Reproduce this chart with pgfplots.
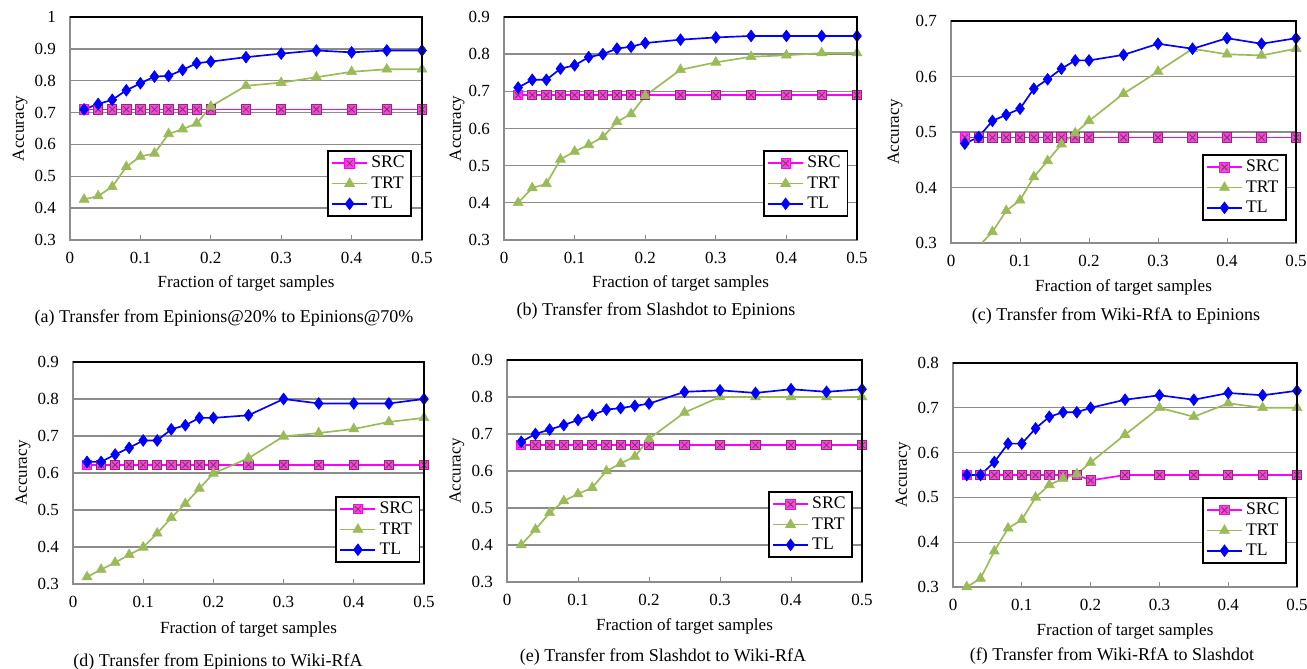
\documentclass[border=0pt]{standalone}
\usepackage{fontspec}
\setmainfont{Liberation Serif}
\usepackage{pgfplots}
\usepackage{pgfplotstable}
\pgfplotsset{compat=1.18}

\definecolor{srcline}{HTML}{FF00FF}
\definecolor{srcfill}{HTML}{E64FD0}
\definecolor{srccross}{HTML}{A0207F}
\definecolor{trtcol}{HTML}{9BBB59}
\definecolor{tlcol}{HTML}{0000FF}
\definecolor{gridgray}{HTML}{8C8C8C}

% square with a cross, like the SRC marker
\pgfdeclareplotmark{sqx}{%
  \pgfpathrectangle{\pgfqpoint{-\pgfplotmarksize}{-\pgfplotmarksize}}{\pgfqpoint{2\pgfplotmarksize}{2\pgfplotmarksize}}%
  \pgfusepathqfillstroke
  \pgfsetstrokecolor{srccross}%
  \pgfpathmoveto{\pgfqpoint{-0.65\pgfplotmarksize}{-0.65\pgfplotmarksize}}%
  \pgfpathlineto{\pgfqpoint{0.65\pgfplotmarksize}{0.65\pgfplotmarksize}}%
  \pgfpathmoveto{\pgfqpoint{-0.65\pgfplotmarksize}{0.65\pgfplotmarksize}}%
  \pgfpathlineto{\pgfqpoint{0.65\pgfplotmarksize}{-0.65\pgfplotmarksize}}%
  \pgfusepathqstroke
}

% (a) Epinions@20% -> Epinions@70%
\pgfplotstableread{
x    src   trt   tl
0.02 0.710 0.427 0.710
0.04 0.710 0.438 0.727
0.06 0.710 0.467 0.740
0.08 0.710 0.530 0.770
0.10 0.710 0.562 0.792
0.12 0.710 0.572 0.813
0.14 0.710 0.633 0.815
0.16 0.710 0.648 0.834
0.18 0.710 0.666 0.855
0.20 0.710 0.719 0.860
0.25 0.710 0.784 0.874
0.30 0.710 0.794 0.885
0.35 0.710 0.811 0.895
0.40 0.710 0.828 0.889
0.45 0.710 0.836 0.895
0.50 0.710 0.836 0.895
}\dataA

% (b) Slashdot -> Epinions
\pgfplotstableread{
x    src   trt   tl
0.02 0.690 0.400 0.710
0.04 0.690 0.440 0.731
0.06 0.690 0.451 0.731
0.08 0.690 0.517 0.761
0.10 0.690 0.538 0.770
0.12 0.690 0.556 0.792
0.14 0.690 0.577 0.800
0.16 0.690 0.618 0.815
0.18 0.690 0.639 0.820
0.20 0.690 0.688 0.830
0.25 0.690 0.758 0.839
0.30 0.690 0.778 0.845
0.35 0.690 0.793 0.849
0.40 0.690 0.797 0.849
0.45 0.690 0.803 0.849
0.50 0.690 0.803 0.849
}\dataB

% (c) Wiki-RfA -> Epinions
\pgfplotstableread{
x    src   trt   tl
0.02 0.490 0.270 0.479
0.04 0.490 0.294 0.491
0.06 0.490 0.320 0.520
0.08 0.490 0.358 0.531
0.10 0.490 0.377 0.542
0.12 0.490 0.419 0.578
0.14 0.490 0.448 0.595
0.16 0.490 0.478 0.614
0.18 0.490 0.498 0.629
0.20 0.490 0.520 0.629
0.25 0.490 0.569 0.639
0.30 0.490 0.609 0.659
0.35 0.490 0.650 0.650
0.40 0.490 0.640 0.669
0.45 0.490 0.638 0.659
0.50 0.490 0.650 0.669
}\dataC

% (d) Epinions -> Wiki-RfA
\pgfplotstableread{
x    src   trt   tl
0.02 0.622 0.319 0.630
0.04 0.622 0.339 0.630
0.06 0.622 0.358 0.650
0.08 0.622 0.379 0.668
0.10 0.622 0.399 0.688
0.12 0.622 0.437 0.688
0.14 0.622 0.479 0.718
0.16 0.622 0.517 0.729
0.18 0.622 0.558 0.749
0.20 0.622 0.599 0.749
0.25 0.622 0.640 0.756
0.30 0.622 0.699 0.800
0.35 0.622 0.708 0.788
0.40 0.622 0.719 0.788
0.45 0.622 0.738 0.788
0.50 0.622 0.749 0.800
}\dataD

% (e) Slashdot -> Wiki-RfA
\pgfplotstableread{
x    src   trt   tl
0.02 0.670 0.400 0.679
0.04 0.670 0.442 0.700
0.06 0.670 0.487 0.712
0.08 0.670 0.519 0.724
0.10 0.670 0.538 0.738
0.12 0.670 0.555 0.751
0.14 0.670 0.600 0.766
0.16 0.670 0.620 0.770
0.18 0.670 0.639 0.776
0.20 0.670 0.687 0.782
0.25 0.670 0.758 0.814
0.30 0.670 0.800 0.818
0.35 0.670 0.800 0.811
0.40 0.670 0.800 0.821
0.45 0.670 0.800 0.814
0.50 0.670 0.800 0.821
}\dataE

% (f) Wiki-RfA -> Slashdot
\pgfplotstableread{
x    src   trt   tl
0.02 0.550 0.300 0.550
0.04 0.550 0.319 0.550
0.06 0.550 0.380 0.579
0.08 0.550 0.431 0.620
0.10 0.550 0.450 0.620
0.12 0.550 0.500 0.654
0.14 0.550 0.528 0.680
0.16 0.550 0.542 0.690
0.18 0.550 0.552 0.690
0.20 0.538 0.578 0.700
0.25 0.550 0.640 0.718
0.30 0.550 0.700 0.728
0.35 0.550 0.680 0.718
0.40 0.550 0.710 0.733
0.45 0.550 0.700 0.728
0.50 0.550 0.700 0.738
}\dataF

\pgfplotsset{
  srcstyle/.style={color=srcline, line width=1pt, mark=sqx, mark size=2.8pt,
    mark options={fill=srcfill, draw=srcline, line width=0.5pt}},
  trtstyle/.style={color=trtcol, line width=1pt, mark=triangle*, mark size=3.4pt,
    mark options={fill=trtcol, draw=trtcol, line width=0.4pt}},
  tlstyle/.style={color=tlcol, line width=1pt, mark=diamond*, mark size=3.5pt,
    mark options={fill=tlcol, draw=tlcol, line width=0.4pt}},
  panel/.style n args={4}{
    scale only axis, anchor=south west,
    xmin=0, xmax=0.5, ymin=#1, ymax=#2,
    xtick={0,0.1,0.2,0.3,0.4,0.5},
    ytick distance=0.1,
    /pgf/number format/.cd, fixed, precision=1, assume math mode=true, /pgfplots/.cd,
    ymajorgrids,
    major grid style={gridgray, line width=0.8pt},
    axis line style={gridgray, line width=0.8pt},
    tick pos=left, xtick align=inside, major tick length=3pt,
    xtick style={gridgray, line width=0.6pt}, ytick style={draw=none},
    ticklabel style={font=\fontsize{10.2}{12}\selectfont},
    xticklabel style={yshift=-4pt},
    yticklabel style={xshift=-5pt},
    xlabel={Fraction of target samples}, ylabel={Accuracy},
    label style={font=\fontsize{10.2}{12}\selectfont},
    legend cell align=left,
    legend style={at={(#3,#4)}, anchor=south east, draw=black, line width=1pt,
      font=\fontsize{10.6}{12}\selectfont, inner xsep=2pt, inner ysep=1.2pt,
      row sep=-0.3pt},
    legend image code/.code={%
      \draw[##1, mark=none] (0pt,0pt) -- (21pt,0pt);
      \draw[##1] plot coordinates {(10.5pt,0pt)};},
  },
  xlab/.style={xlabel style={at={(axis description cs:0.5,-#1)}, anchor=center}},
  ylab/.style={ylabel style={at={(axis description cs:-#1,0.5)}, anchor=center}},
}

\newcommand{\threeplots}[1]{%
  \addplot[srcstyle] table[x=x, y=src] {#1};
  \addplot[trtstyle] table[x=x, y=trt] {#1};
  \addplot[tlstyle] table[x=x, y=tl] {#1};
  \legend{SRC,TRT,TL}
}
\newcommand{\frameit}[1]{%
  \draw[black, line width=1.2pt] (#1.north west) -- (#1.north east) -- (#1.south east);
}

\begin{document}
\begin{tikzpicture}
\useasboundingbox (0,0) rectangle (784.2pt,401.4pt);

\begin{axis}[name=pa, panel={0.3}{1}{0.972}{0.103}, at={(42pt,257.4pt)},
  width=211.2pt, height=133.8pt, xlab=0.193, ylab=0.142]
\threeplots{\dataA}
\end{axis}
\frameit{pa}

\begin{axis}[name=pb, panel={0.3}{0.9}{0.975}{0.103}, at={(302.4pt,257.4pt)},
  width=211.8pt, height=133.8pt, xlab=0.193, ylab=0.133]
\threeplots{\dataB}
\end{axis}
\frameit{pb}

\begin{axis}[name=pc, panel={0.3}{0.7}{0.974}{0.099}, at={(570.6pt,255.6pt)},
  width=207pt, height=133.2pt, xlab=0.198, ylab=0.162]
\threeplots{\dataC}
\end{axis}
\frameit{pc}

\begin{axis}[name=pd, panel={0.3}{0.9}{0.99}{0.095}, at={(43.8pt,51pt)},
  width=210.6pt, height=133.2pt, xlab=0.203, ylab=0.142]
\threeplots{\dataD}
\end{axis}
\frameit{pd}

\begin{axis}[name=pe, panel={0.3}{0.9}{0.975}{0.108}, at={(304.2pt,52.2pt)},
  width=213pt, height=133.2pt, xlab=0.198, ylab=0.141]
\threeplots{\dataE}
\end{axis}
\frameit{pe}

\begin{axis}[name=pf, panel={0.3}{0.8}{0.971}{0.103}, at={(571.8pt,49.2pt)},
  width=206.4pt, height=134.4pt, xlab=0.196, ylab=0.145]
\threeplots{\dataF}
\end{axis}
\frameit{pf}

\begin{scope}[every node/.style={font=\fontsize{10.8}{13}\selectfont}]
\node at (134.4pt,210.6pt) {(a) Transfer from Epinions@20\% to Epinions@70\%};
\node at (393.6pt,214.8pt) {(b) Transfer from Slashdot to Epinions};
\node at (669.6pt,211.8pt) {(c) Transfer from Wiki-RfA to Epinions};
\node at (130.8pt,4.2pt) {(d) Transfer from Epinions to Wiki-RfA};
\node at (397.8pt,7.2pt) {(e) Transfer from Slashdot to Wiki-RfA};
\node at (667.2pt,7.8pt) {(f) Transfer from Wiki-RfA to Slashdot};
\end{scope}
\end{tikzpicture}
\end{document}
